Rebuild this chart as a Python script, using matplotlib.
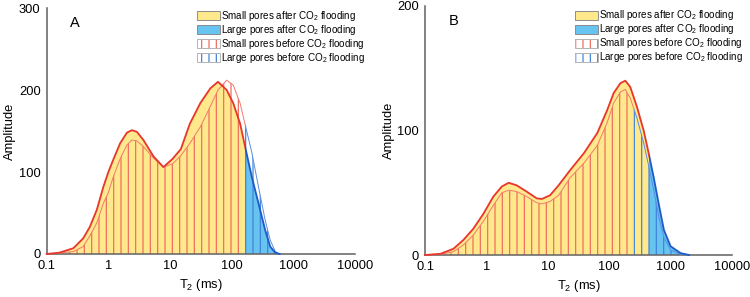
import numpy as np
import matplotlib
matplotlib.use('Agg')
import matplotlib.pyplot as plt
from matplotlib.patches import Patch, Rectangle
from matplotlib.legend_handler import HandlerTuple

plt.rcParams['font.family'] = ['Liberation Sans', 'DejaVu Sans']
plt.rcParams['mathtext.fontset'] = 'custom'
plt.rcParams['mathtext.rm'] = 'Liberation Sans'
plt.rcParams['mathtext.it'] = 'Liberation Sans:italic'
plt.rcParams['hatch.linewidth'] = 1.0

# ---------------- data ----------------
t2_a = [0.1, 0.16, 0.27, 0.39, 0.5, 0.65, 0.83, 1.0, 1.2, 1.55, 2.0, 2.4, 2.9, 3.7, 5.4,
        7.8, 11, 15, 21, 31, 45, 60, 83, 106, 137, 165, 212, 272, 350, 422, 509, 600]
amp_a_after = [0, 1.6, 7, 19, 33, 54, 82, 100, 115, 135, 148, 151, 149, 139, 119,
               106, 116, 128, 159, 184, 202, 210, 200, 184, 159, 131, 94, 62, 29, 9, 1.6, 0]
amp_a_before = [0, 1, 3, 9, 22, 38, 62, 75, 94, 116, 133, 139, 138, 131, 117,
                106, 110, 120, 135, 155, 180, 200, 212, 206, 184, 158, 124, 82, 41, 17, 3, 0]
cutoff_a_after = 165
cutoff_a_before = 165

t2_b = [0.1, 0.18, 0.29, 0.42, 0.61, 0.89, 1.3, 1.78, 2.3, 3.1, 4.5, 6.6, 8.0, 10.9, 15,
        23, 39, 64, 92, 118, 152, 183, 220, 283, 364, 438, 532, 646, 779, 1000, 1455, 2000]
amp_b_after = [0, 1, 5, 12, 21, 33, 47, 55, 58, 56, 51, 45.5, 45, 48, 56,
               68, 82, 98, 116, 130, 138, 140, 135, 119, 100, 82, 62, 40, 20, 7, 1.5, 0]
amp_b_before = [0, 0.5, 2.7, 8, 16, 27, 40, 50, 52, 51, 47, 42, 41, 43, 48,
                62, 74, 88, 106, 122, 131, 133, 126, 110, 90, 72, 52, 30, 14, 4, 0.5, 0]
cutoff_b_after = 440
cutoff_b_before = 250

x_ticks = [0.1, 1, 10, 100, 1000, 10000]
x_tick_labels = ['0.1', '1', '10', '100', '1000', '10000']
y_ticks_a = [0, 100, 200, 300]
y_ticks_b = [0, 100, 200]

legend_labels = ['Small pores after CO$_2$ flooding',
                 'Large pores after CO$_2$ flooding',
                 'Small pores before CO$_2$ flooding',
                 'Large pores before CO$_2$ flooding']

# ---------------- style ----------------
YELLOW = '#FFE98C'
BLUE_FILL = '#67C3F0'
RED_LINE = '#E8372C'
BLUE_LINE = '#1E5BC8'
RED_HATCH = '#EE6E5E'
BLUE_HATCH = '#3F84DC'
RED_THIN = '#F07A70'
BLUE_THIN = '#5A8EE0'
SPINE = '#666666'

DPI = 88
fig = plt.figure(figsize=(750 / DPI, 297 / DPI), dpi=DPI)
axA = fig.add_axes([0.0623, 0.1448, 0.4110, 0.8282])
axB = fig.add_axes([0.5667, 0.1414, 0.4093, 0.8384])


def clip_rects(ax, cut, ymax):
    left = Rectangle((1e-3, -ymax), cut - 1e-3, ymax * 10, transform=ax.transData)
    right = Rectangle((cut, -ymax), 1e7, ymax * 10, transform=ax.transData)
    return left, right


def draw(ax, t2, after, before, cut_after, cut_before, ymax, yticks, label, leg_xy):
    ax.set_xscale('log')
    ax.set_xlim(0.1, 10000)
    ax.set_ylim(0, ymax)
    t2 = np.asarray(t2, float)
    after = np.asarray(after, float)
    before = np.asarray(before, float)

    la, ra = clip_rects(ax, cut_after, ymax)
    lb, rb = clip_rects(ax, cut_before, ymax)

    # after: solid fills
    f1 = ax.fill_between(t2, 0, after, facecolor=YELLOW, edgecolor='none', lw=0, zorder=1)
    f1.set_clip_path(la)
    f2 = ax.fill_between(t2, 0, after, facecolor=BLUE_FILL, edgecolor='none', lw=0, zorder=1)
    f2.set_clip_path(ra)

    # before: hatched
    h1 = ax.fill_between(t2, 0, before, facecolor='none', edgecolor=RED_HATCH, lw=0,
                         hatch='||', zorder=2)
    h1.set_clip_path(lb)
    h2 = ax.fill_between(t2, 0, before, facecolor='none', edgecolor=BLUE_HATCH, lw=0,
                         hatch='||', zorder=2)
    h2.set_clip_path(rb)

    # before outline (thin)
    l1, = ax.plot(t2, before, color=RED_THIN, lw=0.8, zorder=3)
    l1.set_clip_path(lb)
    l2, = ax.plot(t2, before, color=BLUE_THIN, lw=0.8, zorder=3)
    l2.set_clip_path(rb)

    # after outline (thick)
    l3, = ax.plot(t2, after, color=RED_LINE, lw=1.5, zorder=4, solid_joinstyle='round')
    l3.set_clip_path(la)
    l4, = ax.plot(t2, after, color=BLUE_LINE, lw=1.5, zorder=4, solid_joinstyle='round')
    l4.set_clip_path(ra)

    ax.set_xticks(x_ticks)
    ax.set_xticklabels(x_tick_labels)
    ax.xaxis.set_minor_locator(matplotlib.ticker.NullLocator())
    ax.set_yticks(yticks)
    ax.tick_params(length=0, labelsize=10.5, pad=5)
    for s in ['top', 'right']:
        ax.spines[s].set_visible(False)
    for s in ['left', 'bottom']:
        ax.spines[s].set_color(SPINE)
        ax.spines[s].set_linewidth(1.3)
    ax.set_xlabel('T$_2$ (ms)', fontsize=10.5, labelpad=4)
    ax.set_ylabel('Amplitude', fontsize=10.5, labelpad=2)
    ax.text(0.092, 0.94, label, transform=ax.transAxes, fontsize=12,
            ha='center', va='center')

    handles = [
        Patch(facecolor=YELLOW, edgecolor='#8c8c8c', lw=0.8),
        Patch(facecolor=BLUE_FILL, edgecolor='#8c8c8c', lw=0.8),
        (Patch(facecolor='white', edgecolor=RED_HATCH, hatch='||', lw=0),
         Patch(facecolor='none', edgecolor='#b4b4b4', lw=0.8)),
        (Patch(facecolor='white', edgecolor=BLUE_HATCH, hatch='||', lw=0),
         Patch(facecolor='none', edgecolor='#b4b4b4', lw=0.8)),
    ]
    ax.legend(handles, legend_labels, handler_map={tuple: HandlerTuple(ndivide=1, pad=0)},
              loc='upper left', bbox_to_anchor=leg_xy, frameon=False, fontsize=8.1,
              handlelength=2.35, handleheight=1.05, handletextpad=0.12,
              labelspacing=0.0, borderpad=0, borderaxespad=0)


draw(axA, t2_a, amp_a_after, amp_a_before, cutoff_a_after, cutoff_a_before,
     300, y_ticks_a, 'A', (0.4875, 0.995))
draw(axB, t2_b, amp_b_after, amp_b_before, cutoff_b_after, cutoff_b_before,
     200, y_ticks_b, 'B', (0.4886, 0.99))

fig.savefig('out.png', dpi=DPI)
